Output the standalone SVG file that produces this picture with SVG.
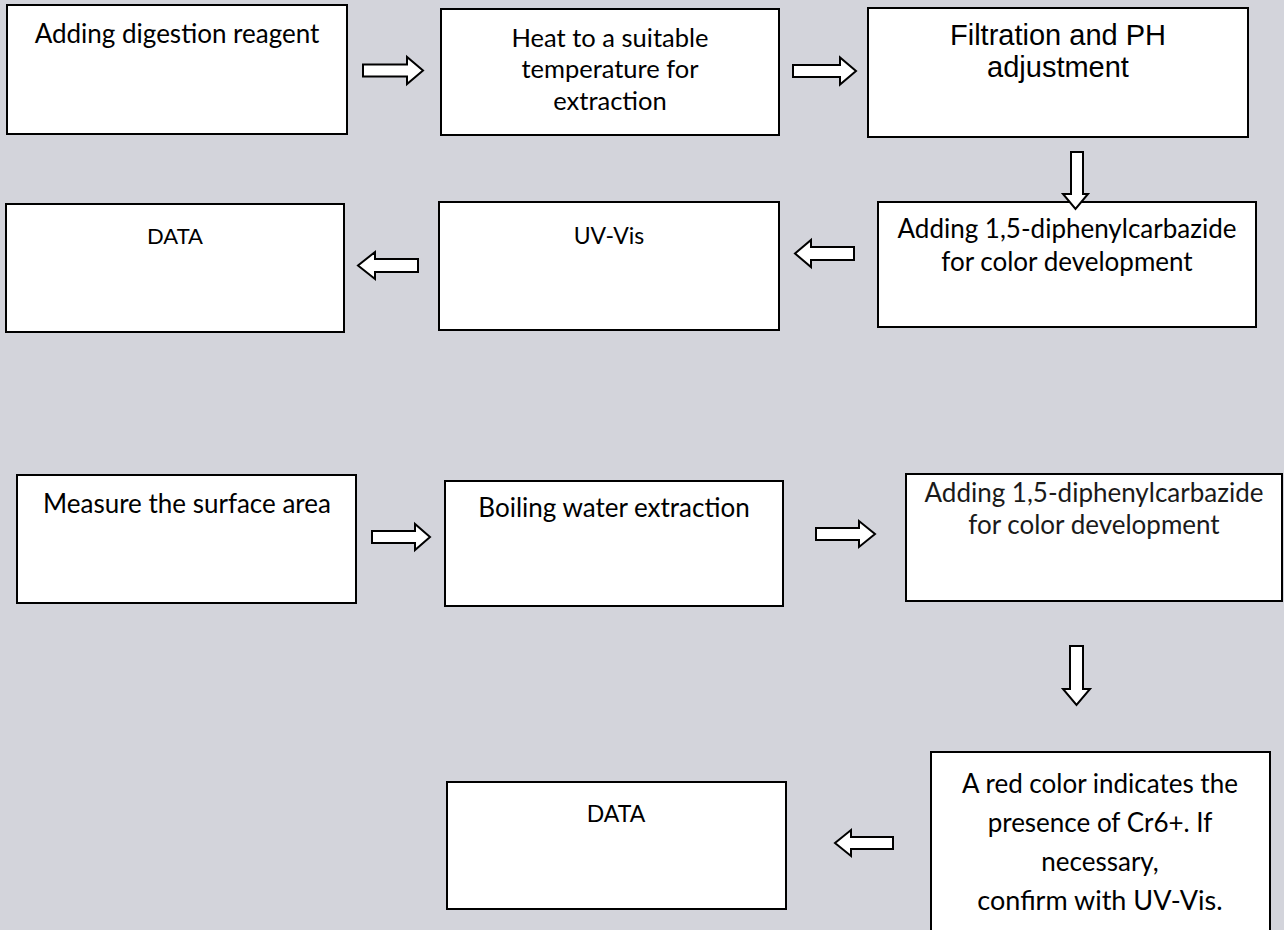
<svg xmlns="http://www.w3.org/2000/svg" width="1284" height="930" viewBox="0 0 1284 930">
<style>
.bg{fill:#d3d4db}
.box{fill:#ffffff;stroke:#000000;stroke-width:2}
.arr{fill:#ffffff;stroke:#000000;stroke-width:2;stroke-linejoin:miter}
.t{font-family:Lato,"Open Sans","Liberation Sans",sans-serif;fill:#000000;text-anchor:middle}
.a{font-family:"Liberation Sans",Arial,sans-serif;fill:#000000;text-anchor:middle}
.g{fill:#1a1a1a}
</style>
<rect class="bg" x="0" y="0" width="1284" height="930"/>
<g id="n1"><rect class="box" x="7" y="5" width="340" height="129"/><text class="t" x="177" y="43" font-size="26">Adding digestion reagent</text></g>
<g id="n2"><rect class="box" x="441" y="9" width="338" height="126"/><text class="t" x="610" y="47" font-size="25.5"><tspan x="610" y="47">Heat to a suitable</tspan><tspan x="610" y="78">temperature for</tspan><tspan x="610" y="110">extraction</tspan></text></g>
<g id="n3"><rect class="box" x="868" y="8" width="380" height="129"/><text class="a" x="1058" y="45" font-size="29"><tspan x="1058" y="45">Filtration and PH</tspan><tspan x="1058" y="77">adjustment</tspan></text></g>
<g id="n4"><rect class="box" x="878" y="202" width="378" height="125"/><text class="t" x="1067" y="238" font-size="26"><tspan x="1067" y="238">Adding 1,5-diphenylcarbazide</tspan><tspan x="1067" y="271">for color development</tspan></text></g>
<g id="n5"><rect class="box" x="439" y="202" width="340" height="128"/><text class="t" x="609" y="244" font-size="23">UV-Vis</text></g>
<g id="n6"><rect class="box" x="6" y="204" width="338" height="128"/><text class="t" x="175" y="244" font-size="22">DATA</text></g>
<g id="n7"><rect class="box" x="17" y="475" width="339" height="128"/><text class="t" x="187" y="513" font-size="26">Measure the surface area</text></g>
<g id="n8"><rect class="box" x="445" y="481" width="338" height="125"/><text class="t" x="614" y="517" font-size="26">Boiling water extraction</text></g>
<g id="n9"><rect class="box" x="906" y="474" width="376" height="127"/><text class="t g" x="1094" y="502" font-size="26"><tspan x="1094" y="502">Adding 1,5-diphenylcarbazide</tspan><tspan x="1094" y="534">for color development</tspan></text></g>
<g id="n10"><rect class="box" x="931" y="752" width="339" height="190"/><text class="t" font-size="26"><tspan x="1100" y="793">A red color indicates the</tspan><tspan x="1100" y="832">presence of Cr6+. If</tspan><tspan x="1100" y="871">necessary,</tspan><tspan x="1100" y="910" font-size="27">confirm with UV-Vis.</tspan></text></g>
<g id="n11"><rect class="box" x="447" y="782" width="339" height="127"/><text class="t" x="616" y="822" font-size="23">DATA</text></g>
<g id="connectors">
<path class="arr" d="M363,64.5 H407 V57 L423,70.5 L407,84 V76.5 H363 Z"/>
<path class="arr" d="M793,65 H840 V57.5 L856,71 L840,84.5 V77 H793 Z"/>
<path class="arr" d="M1071,152 V194 H1063 L1075.5,209 L1088,194 H1083 V152 Z"/>
<path class="arr" d="M854,247 H811 V240 L795,253.5 L811,267 V260 H854 Z"/>
<path class="arr" d="M418,259 H375 V252 L358,265.5 L375,279 V272 H418 Z"/>
<path class="arr" d="M372,531 H415 V524 L430,537 L415,550 V543 H372 Z"/>
<path class="arr" d="M816,528 H859 V521 L875,534 L859,547 V540 H816 Z"/>
<path class="arr" d="M1070,646 V689 H1063 L1076.5,705 L1090,689 H1083 V646 Z"/>
<path class="arr" d="M893,837 H851 V830 L835,843 L851,856 V849 H893 Z"/>
</g>
</svg>
